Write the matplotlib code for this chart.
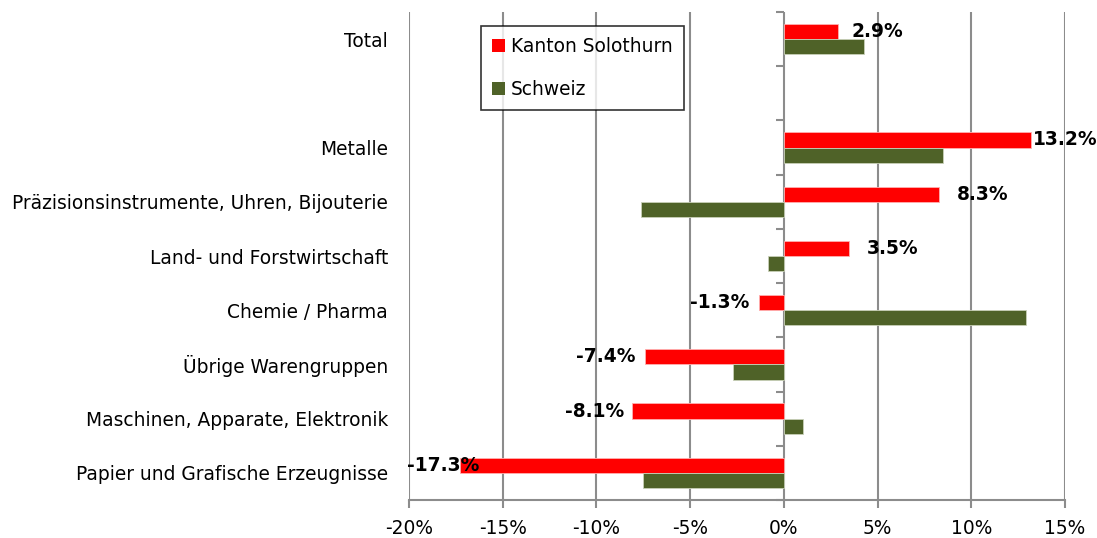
import matplotlib
matplotlib.use('Agg')
import matplotlib.pyplot as plt
import numpy as np
from matplotlib.patches import Patch

# Categories top to bottom ('' is the empty row below Total)
categories = ['Total', '', 'Metalle', 'Präzisionsinstrumente, Uhren, Bijouterie',
              'Land- und Forstwirtschaft', 'Chemie / Pharma', 'Übrige Warengruppen',
              'Maschinen, Apparate, Elektronik', 'Papier und Grafische Erzeugnisse']
solothurn = [2.9, np.nan, 13.2, 8.3, 3.5, -1.3, -7.4, -8.1, -17.3]
schweiz = [4.3, np.nan, 8.5, -7.6, -0.85, 12.9, -2.7, 1.0, -7.5]
# label shift (in % units) relative to the bar end, as Excel placed them
label_shift = [2.1, 0, 1.8, 2.3, 2.3, -2.1, -2.1, -2.0, -0.9]
xticks = [-20, -15, -10, -5, 0, 5, 10, 15]

red = '#FF0000'
green = '#4F6228'
grid = '#8C8C8C'

fig = plt.figure(figsize=(10.97, 5.38), dpi=100)
ax = fig.add_axes([0.3728, 0.0706, 0.5980, 0.9071])

y = np.arange(len(categories))
h = 0.28
ax.barh(y - h / 2, solothurn, height=h, color=red, edgecolor='#FFB0B0', linewidth=0.6, zorder=3)
ax.barh(y + h / 2, schweiz, height=h, color=green, edgecolor='#C8D0B8', linewidth=0.6, zorder=3)

for yi, v, s in zip(y, solothurn, label_shift):
    if np.isnan(v):
        continue
    ax.text(v + s, yi - h / 2, f'{v:.1f}%', ha='center', va='center',
            fontsize=13.4, fontweight='bold', zorder=5)

ax.set_xlim(-20, 15)
ax.set_ylim(len(categories) - 0.5, -0.5)
ax.set_xticks(xticks)
ax.set_xticklabels([f'{t}%' for t in xticks], fontsize=13.4)
ax.set_yticks(y)
ax.set_yticklabels(categories, fontsize=13.4)
ax.tick_params(axis='y', length=0, pad=15)
ax.tick_params(axis='x', length=6, color=grid, width=1.5, pad=8)

for sp in ['top', 'right', 'left']:
    ax.spines[sp].set_visible(False)
ax.spines['bottom'].set_color(grid)
ax.spines['bottom'].set_linewidth(1.5)

for t in xticks:
    ax.axvline(t, color=grid, lw=1.5, zorder=1)

# category separator ticks on the zero axis
bounds = np.arange(len(categories) + 1) - 0.5
ax.plot(np.zeros(len(bounds)), bounds, ls='', marker=0, ms=6, mew=1.5,
        color=grid, zorder=4, clip_on=False)

handles = [Patch(facecolor=red), Patch(facecolor=green)]
leg = ax.legend(handles, ['Kanton Solothurn', 'Schweiz'], loc='upper left',
                bbox_to_anchor=(0.11, 0.971), borderaxespad=0, fontsize=13.4,
                frameon=True, fancybox=False, edgecolor='black',
                handlelength=0.7, handleheight=0.7, handletextpad=0.3,
                labelspacing=1.25, borderpad=0.6)
leg.get_frame().set_linewidth(1.2)
leg.set_zorder(6)

fig.savefig('out.png', dpi=100)
